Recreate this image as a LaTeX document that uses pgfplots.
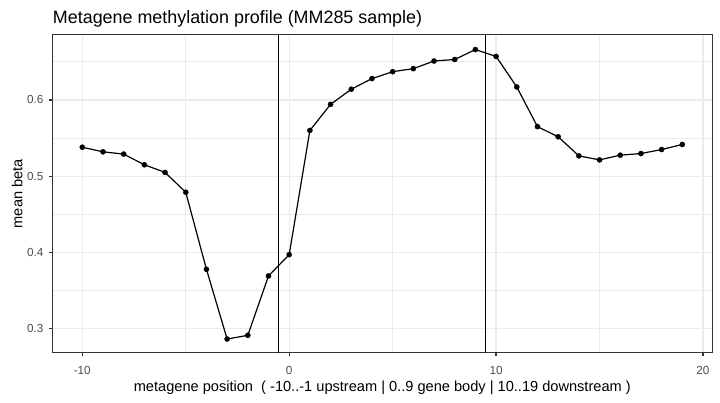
\documentclass[border=0pt]{standalone}
\usepackage{fontspec}
\setmainfont{Liberation Sans}
\usepackage{pgfplots}
\pgfplotsset{compat=1.18}
\definecolor{gridmaj}{HTML}{EBEBEB}
\definecolor{gray20}{HTML}{333333}
\definecolor{gray30}{HTML}{4D4D4D}
\pgfplotstableread{
x y
-10 0.538
-9 0.532
-8 0.529
-7 0.515
-6 0.505
-5 0.479
-4 0.378
-3 0.2866
-2 0.2915
-1 0.3693
0 0.3972
1 0.5600
2 0.5942
3 0.614
4 0.628
5 0.637
6 0.641
7 0.651
8 0.653
9 0.666
10 0.657
11 0.617
12 0.565
13 0.5517
14 0.5267
15 0.5214
16 0.5276
17 0.5297
18 0.535
19 0.5416
}\meandata
\begin{document}
\begin{tikzpicture}
\begin{axis}[name=ax, at={(0,0)}, anchor=south west,
  scale only axis, width=660bp, height=318bp,
  xmin=-11.45, xmax=20.45, ymin=0.2687, ymax=0.6855,
  xtick={-10,0,10,20}, xticklabels={-10,0,10,20},
  ytick={0.3,0.4,0.5,0.6}, yticklabels={0.3,0.4,0.5,0.6},
  minor xtick={-5,5,15}, minor ytick={0.35,0.45,0.55,0.65},
  grid=both,
  major grid style={draw=gridmaj, line width=1.2bp},
  minor grid style={draw=gridmaj, line width=0.6bp},
  axis line style={draw=gray20, line width=1.2bp},
  tick style={draw=gray20, line width=1.2bp},
  major tick length=3.7bp, minor tick length=0pt,
  tick align=outside, tick pos=left,
  ticklabel style={font=\fontsize{11.7bp}{13bp}\selectfont, text=gray30},
  xticklabel style={anchor=base, inner sep=0pt, yshift=-18bp},
  yticklabel style={anchor=east, inner sep=0pt, xshift=-5bp},
  clip=true,
]
\addplot[black, line width=1.2bp] coordinates {(-0.5,0.2687) (-0.5,0.6855)};
\addplot[black, line width=1.2bp] coordinates {(9.5,0.2687) (9.5,0.6855)};
\addplot[black, line width=1.2bp, mark=*, mark size=2.6bp, mark options={solid, fill=black, draw=black, line width=0.3bp}] table[x=x, y=y] {\meandata};
\end{axis}
\coordinate (yl) at ([xshift=-30bp]ax.west);
\coordinate (xl) at ([yshift=-39bp]ax.south);
\coordinate (tl) at ([xshift=0.5bp, yshift=11.4bp]ax.north west);
\node[anchor=base west, inner sep=0pt, font=\fontsize{17.9bp}{19bp}\selectfont] at (tl) {Metagene methylation profile (MM285 sample)};
\node[anchor=base, inner sep=0pt, font=\fontsize{14.6bp}{16bp}\selectfont] at (xl) {metagene position~~( -10..-1 upstream | 0..9 gene body | 10..19 downstream )};
\node[anchor=base, inner sep=0pt, rotate=90, font=\fontsize{14.6bp}{16bp}\selectfont] at (yl) {mean beta};
\path[use as bounding box] ([shift={(-52.3bp,-50.3bp)}]ax.south west) rectangle ([shift={(7.7bp,34.7bp)}]ax.north east);
\end{tikzpicture}
\end{document}
